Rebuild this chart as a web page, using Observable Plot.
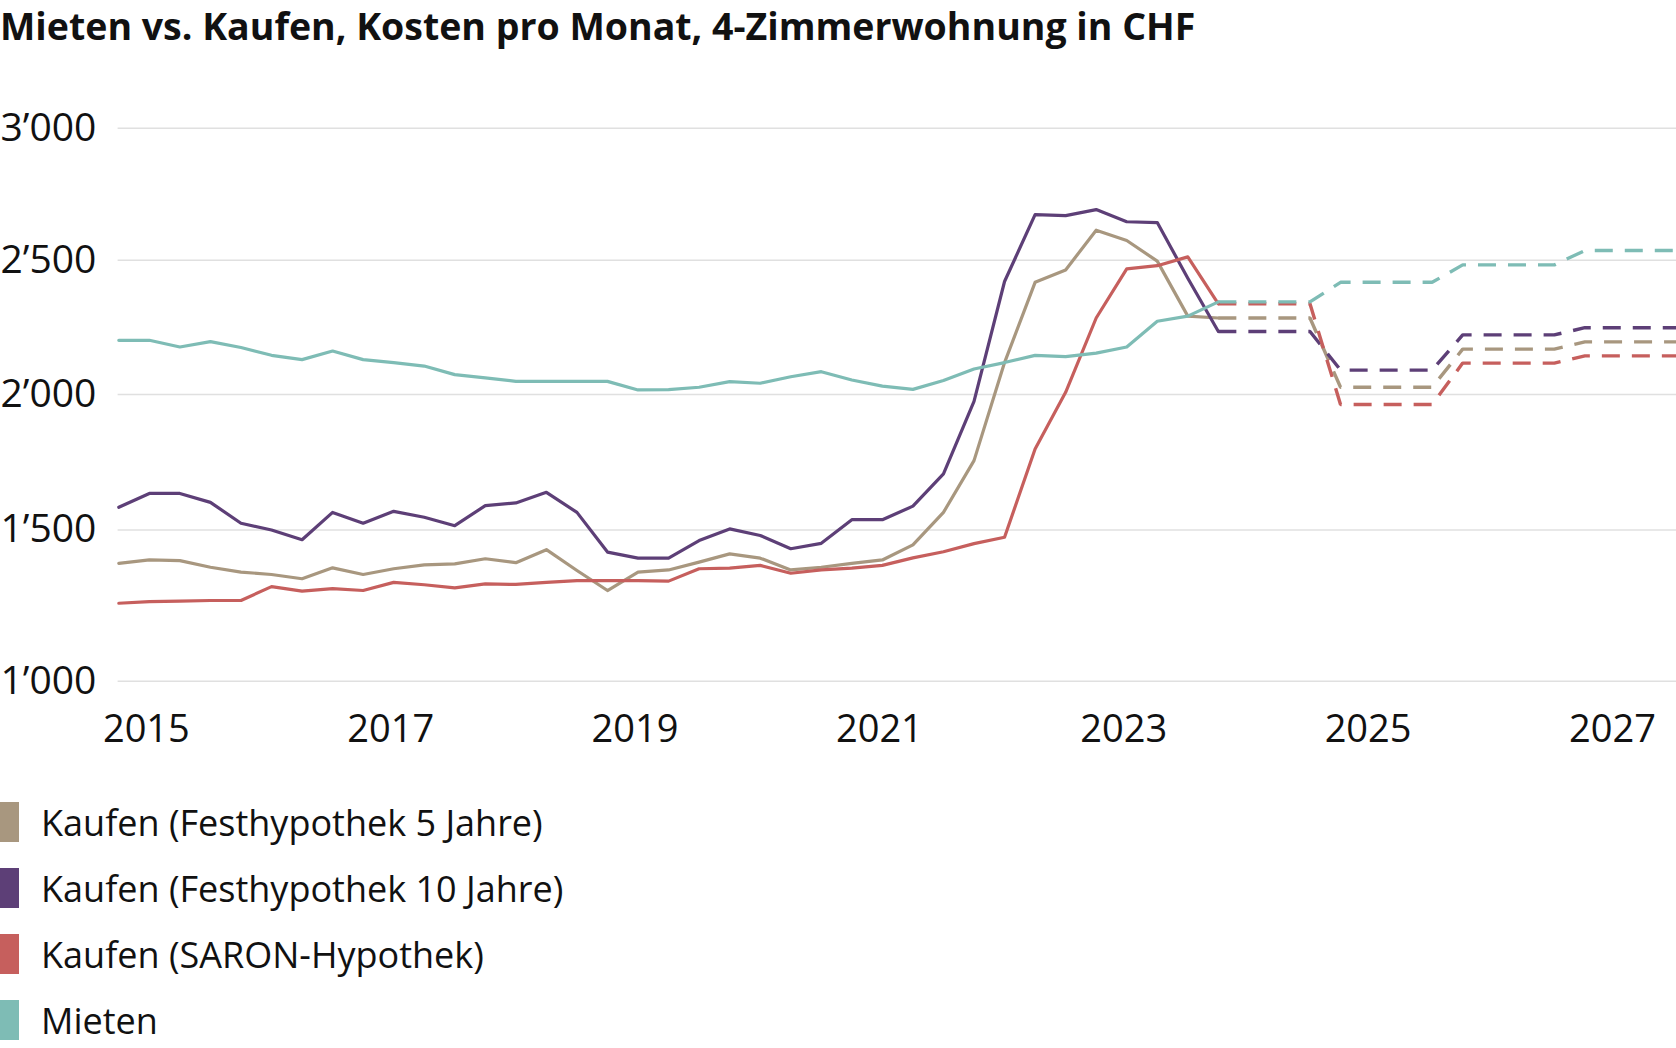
<!DOCTYPE html>
<html><head><meta charset="utf-8">
<script src="https://cdn.jsdelivr.net/npm/d3@7"></script>
<script src="https://cdn.jsdelivr.net/npm/@observablehq/plot@0.6"></script>
<style>
html,body{margin:0;padding:0;background:#fff;overflow:hidden;}
body{font-family:"Open Sans",sans-serif;color:#111;width:1676px;}
#title{font-size:37.5px;font-weight:700;height:54px;line-height:52px;white-space:nowrap;margin:0;}
#chart svg{display:block;}
#legend{margin-top:28px;}
.item{display:flex;align-items:center;height:40px;margin-bottom:26px;font-size:36px;color:#111;white-space:nowrap;}
.sw{width:19px;height:40px;margin-right:22px;flex:none;}
</style></head><body>
<div id="title">Mieten vs. Kaufen, Kosten pro Monat, 4-Zimmerwohnung in CHF</div>
<div id="chart"></div>
<div id="legend"></div>
<script>
// Series names and colours
const seriesNames = ["Kaufen (Festhypothek 5 Jahre)", "Kaufen (Festhypothek 10 Jahre)", "Kaufen (SARON-Hypothek)", "Mieten"];
const seriesColors = ["#a8977f", "#5d3f77", "#c65f5d", "#7ebcb5"];

// Quarterly periods 2015 Q1 ... 2027 Q4 (decimal years)
const quarters = d3.range(52).map(i => 2015 + i / 4);

// Historical values 2015 Q1 – 2024 Q1 (CHF per month)
const fest5Hist = [1390,1401,1399,1377,1361,1353,1339,1375,1353,1372,1385,1388,1405,1392,1435,1366,1300,1361,1368,1394,1421,1407,1368,1377,1390,1401,1451,1565,1756,2119,2418,2464,2614,2575,2497,2292,2285];
const fest10Hist = [1584,1635,1635,1602,1525,1500,1468,1565,1525,1569,1547,1516,1590,1600,1639,1565,1427,1407,1407,1465,1504,1482,1438,1456,1538,1538,1588,1707,1975,2421,2673,2669,2692,2646,2643,2433,2235];
const saronHist = [1258,1263,1265,1267,1267,1313,1298,1306,1300,1327,1319,1309,1322,1320,1327,1333,1333,1333,1331,1372,1374,1383,1357,1368,1374,1383,1408,1428,1455,1476,1799,2008,2285,2468,2480,2513,2338];
const mietenHist = [2202,2202,2177,2197,2175,2146,2130,2162,2130,2119,2106,2074,2062,2049,2049,2049,2049,2017,2018,2027,2048,2042,2066,2085,2054,2031,2019,2052,2095,2119,2146,2141,2154,2177,2273,2292,2345];

// Forecast values 2024 Q1 – 2027 Q4 (dashed)
const fest5Prog  = [2285,2285,2285,2285,2027,2027,2027,2027,2169,2169,2169,2169,2196,2196,2196,2196];
const fest10Prog = [2235,2235,2235,2235,2091,2091,2091,2091,2222,2222,2222,2222,2249,2249,2249,2249];
const saronProg  = [2338,2338,2338,2338,1963,1963,1963,1963,2117,2117,2117,2117,2144,2144,2144,2144];
const mietenProg = [2345,2345,2345,2345,2418,2418,2418,2418,2483,2483,2483,2483,2537,2537,2537,2537];

// Axis ticks
const yTicks = [1000, 1500, 2000, 2500, 3000];
const xTicks = [2015, 2017, 2019, 2021, 2023, 2025, 2027];

const hist = [fest5Hist, fest10Hist, saronHist, mietenHist];
const prog = [fest5Prog, fest10Prog, saronProg, mietenProg];
const progStart = 36;

const histRows = hist.flatMap((vals, s) => vals.map((v, i) => ({x: quarters[i], y: v, series: seriesNames[s]})));
const progRows = prog.flatMap((vals, s) => vals.map((v, i) => ({x: quarters[progStart + i], y: v, series: seriesNames[s]})));

// The original value axis is not evenly spaced (wider gap down to the 1'000 baseline);
// a piecewise transform reproduces its tick spacing before Plot's linear y scale.
const yT = d3.scaleLinear().domain([1000, 1500, 2000, 2500, 3000]).range([941.7, 1500, 2000, 2495.2, 2982.7]);

const locale = d3.formatLocale({decimal: ".", thousands: "\u2019", grouping: [3], currency: ["", ""]});
const fmt = locale.format(",");

const chart = Plot.plot({
  width: 1676,
  height: 720,
  marginLeft: 117.6,
  marginRight: 0,
  marginTop: 73.7,
  marginBottom: 93.2,
  style: {fontFamily: "Open Sans, sans-serif", color: "#111", background: "#fff", overflow: "hidden"},
  x: {type: "linear", domain: [2015, 2027.75], range: [118.3, 1676], axis: null},
  y: {type: "linear", domain: [yT(1000), yT(3000)], axis: null},
  color: {domain: seriesNames, range: seriesColors},
  marks: [
    Plot.ruleY(yTicks, {y: d => yT(d), stroke: "#e0e0e0", strokeWidth: 1.5}),
    Plot.text(yTicks, {y: d => yT(d), text: d => fmt(d), frameAnchor: "left", textAnchor: "start", dx: -117.6, fontSize: 39, lineAnchor: "middle", fill: "#111"}),
    Plot.text(xTicks, {x: d => d, text: d => String(d), frameAnchor: "bottom", textAnchor: "start", dx: -15.9, dy: 61, fontSize: 38, lineAnchor: "bottom", fill: "#111"}),
    Plot.line(progRows, {x: "x", y: d => yT(d.y), z: "series", stroke: "series", strokeWidth: 3.4, strokeDasharray: "18,12", strokeLinecap: "butt", strokeLinejoin: "miter"}),
    Plot.line(histRows, {x: "x", y: d => yT(d.y), z: "series", stroke: "series", strokeWidth: 3.2, strokeLinejoin: "round"})
  ]
});
document.getElementById("chart").appendChild(chart);

const legend = document.getElementById("legend");
seriesNames.forEach((name, i) => {
  const item = document.createElement("div");
  item.className = "item";
  const sw = document.createElement("div");
  sw.className = "sw";
  sw.style.background = seriesColors[i];
  const label = document.createElement("span");
  label.textContent = name;
  item.appendChild(sw);
  item.appendChild(label);
  legend.appendChild(item);
});
</script>
</body></html>
